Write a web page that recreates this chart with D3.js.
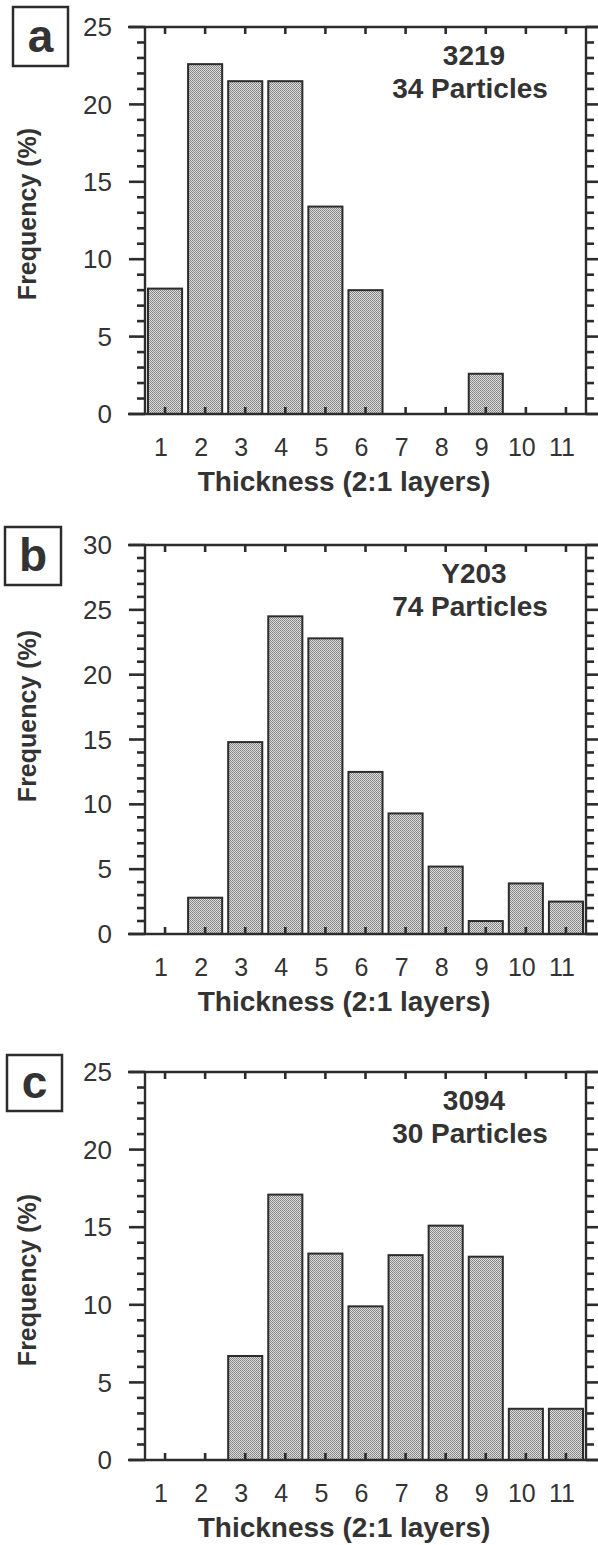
<!DOCTYPE html>
<html>
<head>
<meta charset="utf-8">
<script src="https://cdn.jsdelivr.net/npm/d3@7"></script>
<style>
  html, body { margin: 0; padding: 0; background: #fff; }
  svg { display: block; font-family: "Liberation Sans", Arial, Helvetica, sans-serif; }
</style>
</head>
<body>
<svg id="chart" width="598" height="1545"></svg>
<script>
// ---- data ----
const categories = [1, 2, 3, 4, 5, 6, 7, 8, 9, 10, 11];
const valuesA = [8.1, 22.6, 21.5, 21.5, 13.4, 8.0, 0, 0, 2.6, 0, 0];
const valuesB = [0, 2.8, 14.8, 24.5, 22.8, 12.5, 9.3, 5.2, 1.0, 3.9, 2.5];
const valuesC = [0, 0, 6.7, 17.1, 13.3, 9.9, 13.2, 15.1, 13.1, 3.3, 3.3];
const yTicksA = [0, 5, 10, 15, 20, 25];
const yTicksB = [0, 5, 10, 15, 20, 25, 30];
const yTicksC = [0, 5, 10, 15, 20, 25];
const panelLetters = ["a", "b", "c"];
const sampleIds = ["3219", "Y203", "3094"];
const particleLabels = ["34 Particles", "74 Particles", "30 Particles"];
const xTitle = "Thickness (2:1 layers)";
const yTitle = "Frequency (%)";

// ---- layout ----
const panels = [
  { values: valuesA, ticks: yTicksA, top: 27, bottom: 414, yTitleY: 214, box: [13, 7, 55, 59] },
  { values: valuesB, ticks: yTicksB, top: 545, bottom: 934, yTitleY: 716, box: [5, 527, 56, 58] },
  { values: valuesC, ticks: yTicksC, top: 1072, bottom: 1460, yTitleY: 1280, box: [7, 1055, 55, 56] }
];
const plotLeft = 145, plotRight = 586, lineStart = 128, lineEnd = 598;
const ink = "#2c2c2c";
const textInk = "#333";

const svg = d3.select("#chart");

// stipple pattern
const defs = svg.append("defs");
const pat = defs.append("pattern").attr("id", "stipple")
  .attr("width", 2).attr("height", 2).attr("patternUnits", "userSpaceOnUse");
pat.append("rect").attr("width", 2).attr("height", 2).attr("fill", "#dedede");
pat.append("rect").attr("width", 1).attr("height", 1).attr("fill", "#808080");
pat.append("rect").attr("x", 1).attr("y", 1).attr("width", 1).attr("height", 1).attr("fill", "#8c8c8c");

const x = d3.scaleBand().domain(categories).range([plotLeft, plotRight])
  .paddingInner(0.15).paddingOuter(0.075);
const xc = d => x(d) + x.bandwidth() / 2;

panels.forEach((p, i) => {
  const yMax = d3.max(p.ticks);
  const y = d3.scaleLinear().domain([0, yMax]).range([p.bottom, p.top]);
  const minor = d3.range(0, yMax + 1, 1).filter(v => !p.ticks.includes(v));
  const g = svg.append("g");

  // bars
  g.selectAll("rect.bar").data(categories.map((c, k) => ({ c, v: p.values[k] })).filter(d => d.v > 0))
    .join("rect").attr("class", "bar")
    .attr("x", d => x(d.c))
    .attr("width", x.bandwidth())
    .attr("y", d => y(d.v))
    .attr("height", d => y(0) - y(d.v))
    .attr("fill", "url(#stipple)")
    .attr("stroke", ink).attr("stroke-width", 2);

  const tickG = g.append("g").attr("stroke", ink).attr("stroke-width", 2.6);
  // left minor / major ticks (outward)
  tickG.selectAll("line.lmin").data(minor).join("line").attr("class", "lmin")
    .attr("x1", plotLeft - 8).attr("x2", plotLeft).attr("y1", d => y(d)).attr("y2", d => y(d));
  tickG.selectAll("line.lmaj").data(p.ticks).join("line").attr("class", "lmaj")
    .attr("x1", plotLeft - 16).attr("x2", plotLeft).attr("y1", d => y(d)).attr("y2", d => y(d));
  // right minor / major ticks (outward)
  tickG.selectAll("line.rmin").data(minor).join("line").attr("class", "rmin")
    .attr("x1", plotRight).attr("x2", plotRight + 8).attr("y1", d => y(d)).attr("y2", d => y(d));
  tickG.selectAll("line.rmaj").data(p.ticks).join("line").attr("class", "rmaj")
    .attr("x1", plotRight).attr("x2", plotRight + 16).attr("y1", d => y(d)).attr("y2", d => y(d));
  // top / bottom category ticks (inward)
  tickG.selectAll("line.top").data(categories).join("line").attr("class", "top")
    .attr("x1", xc).attr("x2", xc).attr("y1", p.top).attr("y2", p.top + 7);
  tickG.selectAll("line.bot").data(categories).join("line").attr("class", "bot")
    .attr("x1", xc).attr("x2", xc).attr("y1", p.bottom).attr("y2", p.bottom - 7);

  // y tick labels
  g.selectAll("text.ylab").data(p.ticks).join("text").attr("class", "ylab")
    .attr("x", 112).attr("y", d => y(d)).attr("dy", "0.35em")
    .attr("text-anchor", "end").attr("font-size", 26).attr("fill", textInk)
    .text(d3.format("d"));
  // x tick labels
  g.selectAll("text.xlab").data(categories).join("text").attr("class", "xlab")
    .attr("x", d => xc(d) - 4).attr("y", p.bottom + 42)
    .attr("text-anchor", "middle").attr("font-size", 25).attr("fill", textInk)
    .text(d => d);

  // frame lines
  const frame = g.append("g").attr("stroke", ink).attr("stroke-width", 2.4);
  frame.append("line").attr("x1", lineStart).attr("x2", lineEnd).attr("y1", p.top).attr("y2", p.top);
  frame.append("line").attr("x1", lineStart).attr("x2", lineEnd).attr("y1", p.bottom).attr("y2", p.bottom);
  frame.append("line").attr("x1", plotLeft).attr("x2", plotLeft).attr("y1", p.top).attr("y2", p.bottom);
  frame.append("line").attr("x1", plotRight).attr("x2", plotRight).attr("y1", p.top).attr("y2", p.bottom);

  // sample annotation
  g.append("text").attr("x", 474).attr("y", p.top + 38)
    .attr("text-anchor", "middle").attr("font-size", 28).attr("font-weight", "bold").attr("fill", textInk)
    .text(sampleIds[i]);
  g.append("text").attr("x", 470).attr("y", p.top + 71)
    .attr("text-anchor", "middle").attr("font-size", 28).attr("font-weight", "bold").attr("fill", textInk)
    .text(particleLabels[i]);

  // x title
  g.append("text").attr("x", 344).attr("y", p.bottom + 77)
    .attr("text-anchor", "middle").attr("font-size", 28).attr("font-weight", "bold").attr("fill", textInk)
    .text(xTitle);

  // y title
  g.append("text").attr("transform", `translate(36,${p.yTitleY}) rotate(-90)`)
    .attr("text-anchor", "middle").attr("font-size", 25).attr("font-weight", "bold").attr("fill", textInk)
    .text(yTitle);

  // panel letter box
  const [bx, by, bw, bh] = p.box;
  g.append("rect").attr("x", bx).attr("y", by).attr("width", bw).attr("height", bh)
    .attr("fill", "none").attr("stroke", ink).attr("stroke-width", 2.5);
  g.append("text").attr("x", bx + bw / 2).attr("y", by + bh / 2 + 15)
    .attr("text-anchor", "middle").attr("font-size", 46).attr("font-weight", "bold").attr("fill", textInk)
    .text(panelLetters[i]);
});
</script>
</body>
</html>
